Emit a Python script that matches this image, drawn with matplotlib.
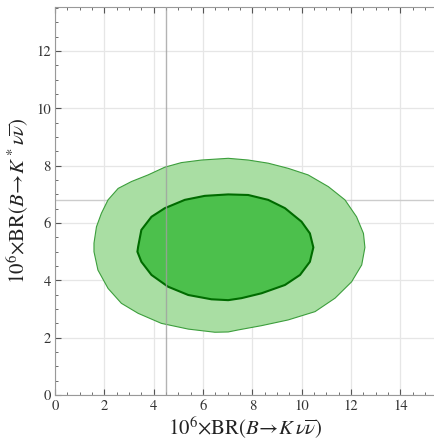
#!/usr/bin/env python3
"""B -> K nu nubar vs B -> K* nu nubar allowed regions."""
import matplotlib
matplotlib.use('Agg')
import matplotlib.pyplot as plt
from matplotlib.ticker import MultipleLocator

plt.rcParams.update({
    'font.family': 'STIXGeneral', 'mathtext.fontset': 'stix',
    'font.size': 10,
})

# outer (light) contour, (BR(B->K nunu), BR(B->K* nunu)) x 1e6
outer_x = [1.58, 1.68, 1.88, 2.15, 2.56, 3.10, 3.77, 4.45, 5.12, 5.94, 7.02,
           7.83, 8.64, 9.45, 10.26, 11.08, 11.75, 12.22, 12.50, 12.56,
           12.43, 12.02, 11.35, 10.54, 9.45, 8.37, 7.42, 7.02,
           6.48, 5.40, 4.31, 3.37, 2.69, 2.15, 1.74, 1.58]
outer_y = [5.30, 5.87, 6.34, 6.81, 7.21, 7.45, 7.68, 7.95, 8.11, 8.20, 8.26,
           8.20, 8.09, 7.91, 7.68, 7.27, 6.81, 6.22, 5.64, 5.15,
           4.54, 3.95, 3.38, 2.91, 2.62, 2.42, 2.27, 2.20,
           2.19, 2.30, 2.50, 2.85, 3.20, 3.72, 4.36, 5.00]
# inner (dark) contour
inner_x = [3.37, 3.50, 3.91, 4.45, 5.26, 6.07, 7.02, 7.83, 8.64, 9.32, 9.99,
           10.33, 10.47, 10.33, 9.93, 9.32, 8.37, 7.56, 7.02, 6.34, 5.40,
           4.58, 3.91, 3.50, 3.34]
inner_y = [5.18, 5.76, 6.22, 6.52, 6.81, 6.95, 7.00, 6.98, 6.81, 6.52, 6.05,
           5.64, 5.15, 4.65, 4.19, 3.84, 3.55, 3.38, 3.31, 3.34, 3.49,
           3.78, 4.19, 4.65, 5.00]
sm_x, sm_y = 4.5, 6.8

fig = plt.figure(figsize=(4.35, 4.43), dpi=100)
ax = fig.add_axes([55/435, 48/443, 380/435, 387.7/443])

ax.fill(outer_x, outer_y, facecolor='#a9dea3', edgecolor='#3c9e3c', lw=0.8, zorder=2)
ax.fill(inner_x, inner_y, facecolor='#4cc04c', edgecolor='#006b00', lw=1.5, zorder=3)

ax.axvline(sm_x, color='#a0a0a0', lw=1.0, alpha=0.8, zorder=4)
ax.axhline(sm_y, color='#cccccc', lw=1.0, zorder=1)

ax.set_xlim(0, 15.4)
ax.set_ylim(0, 13.53)
ax.xaxis.set_major_locator(MultipleLocator(2))
ax.yaxis.set_major_locator(MultipleLocator(2))
ax.xaxis.set_minor_locator(MultipleLocator(0.5))
ax.yaxis.set_minor_locator(MultipleLocator(0.5))
ax.grid(True, which='major', color='#e6e6e6', lw=0.9, zorder=0)
ax.set_axisbelow(True)
ax.tick_params(which='both', direction='in', top=True, right=False,
               colors='#555555', labelcolor='#333333', labelsize=10.5, pad=3)
ax.tick_params(which='major', length=4)
ax.tick_params(which='minor', length=2)
for side in ['left', 'bottom', 'top']:
    ax.spines[side].set_color('#999999')
    ax.spines[side].set_linewidth(0.8)
ax.spines['right'].set_visible(False)

ax.set_xlabel(r'$10^6{\times}\mathrm{BR}(B\!\rightarrow\!K\,\nu\overline{\nu})$',
              fontsize=15, labelpad=2, color='#222222')
ax.set_ylabel(r'$10^6{\times}\mathrm{BR}(B\!\rightarrow\!K^*\nu\overline{\nu})$',
              fontsize=15, labelpad=4, color='#222222')

fig.savefig('out.png', dpi=100)
